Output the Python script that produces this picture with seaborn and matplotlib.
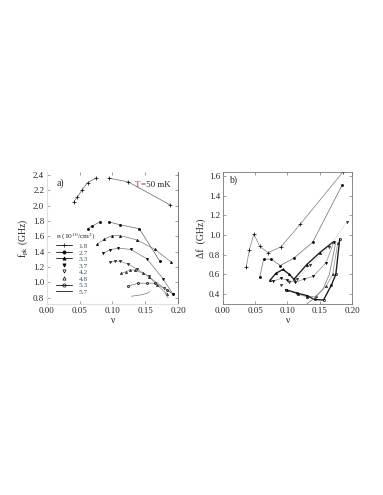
import numpy as np
import matplotlib
matplotlib.use("Agg")
import matplotlib.pyplot as plt
import seaborn as sns
from matplotlib.lines import Line2D

sns.set_style("ticks")
plt.rcParams["font.family"] = ["Liberation Serif", "DejaVu Serif"]
plt.rcParams["mathtext.fontset"] = "stix"

nan = np.nan

# densities n (10^10 / cm^2)
densities = ["1.8", "2.7", "3.3", "3.7", "4.2", "4.8", "5.3", "5.7"]

# panel a) peak frequency f_pk (GHz) vs filling factor nu  (nan = gap)
nu_a = [
    [0.041, 0.046, 0.054, 0.062, 0.075, nan, 0.094, 0.124, 0.188],
    [0.062, 0.068, 0.081, nan, 0.094, 0.112, 0.141, 0.172],
    [0.077, 0.087, 0.099, 0.112, 0.137, 0.165, 0.189],
    [0.086, 0.096, 0.109, 0.128, 0.153, 0.177, 0.192],
    [0.096, 0.104, 0.112, 0.124, 0.138, 0.155, 0.178, 0.192],
    [0.113, 0.121, 0.126, 0.134, 0.147, 0.156, 0.168, 0.183],
    [0.123, 0.139, 0.152, 0.165, 0.183, 0.193],
    [0.129, 0.137, 0.145, 0.153, 0.157, nan, 0.180, 0.185],
]
fpk = [
    [2.05, 2.11, 2.21, 2.30, 2.36, nan, 2.36, 2.31, 2.01],
    [1.70, 1.73, 1.79, nan, 1.79, 1.75, 1.70, 1.28],
    [1.50, 1.56, 1.61, 1.61, 1.555, 1.43, 1.27],
    [1.38, 1.425, 1.447, 1.43, 1.305, 1.05, 0.85],
    [1.26, 1.28, 1.275, 1.24, 1.17, 1.08, 0.93, 0.85],
    [1.12, 1.14, 1.165, 1.16, 1.12, 1.07, 0.97, 0.85],
    [0.95, 0.99, 0.99, 0.99, 0.905, 0.85],
    [0.82, 0.83, 0.84, 0.86, 0.88, nan, 0.865, 0.80],
]

# panel b) linewidth delta f (GHz) vs nu
nu_b = [
    [0.036, 0.041, 0.048, 0.057, 0.070, 0.090, 0.120, 0.186],
    [0.057, 0.063, 0.075, 0.089, 0.110, 0.139, 0.185],
    [0.073, 0.082, 0.093, 0.103, 0.110, 0.130, 0.150, 0.170],
    [0.078, 0.090, 0.100, 0.112, 0.125, 0.140, 0.160, 0.172],
    [0.090, 0.103, 0.115, 0.135, 0.165, 0.192],
    [0.100, 0.117, 0.130, 0.145, 0.160, 0.170, 0.178],
    [0.097, 0.115, 0.130, 0.142, 0.156, 0.168, 0.175, 0.181],
    [0.130, 0.140, 0.155, 0.165, 0.175],
]
df_b = [
    [0.67, 0.85, 1.01, 0.885, 0.82, 0.88, 1.11, 1.64],
    [0.57, 0.755, 0.755, 0.69, 0.765, 0.925, 1.51],
    [0.54, 0.61, 0.65, 0.60, 0.55, 0.70, 0.82, 0.925],
    [0.53, 0.56, 0.54, 0.52, 0.55, 0.58, 0.72, 0.93],
    [0.49, 0.52, 0.55, 0.70, 0.88, 1.13],
    [0.44, 0.40, 0.37, 0.38, 0.48, 0.60, 0.92],
    [0.445, 0.41, 0.385, 0.345, 0.34, 0.49, 0.60, 0.96],
    [0.30, 0.35, 0.45, 0.60, 0.93],
]

markers = ["+", "o", "^", "v", "v", "^", "o", ""]
mfill = ["k", "k", "k", "k", "none", "none", "none", "none"]
line_a = ["#666666", "#666666", "#777777", "#777777", "#888888", "#888888", "#777777", "#777777"]
line_b = ["#888888", "#777777", "#222222", "#999999", "#b0b0b0", "#999999", "#222222", "#888888"]
lw_b = [0.55, 0.55, 1.0, 0.55, 0.55, 0.55, 1.0, 0.6]
ls_b = ["-", "-", "-", "-", ":", "-", "-", "-"]


def draw(ax, nu, val, **kw):
    nu = np.array(nu)
    val = np.array(val)
    ok = ~np.isnan(nu)
    seg = np.cumsum(~ok)
    for s in np.unique(seg[ok]):
        m = ok & (seg == s)
        sns.lineplot(x=nu[m], y=val[m], ax=ax, sort=False, estimator=None, **kw)


fig = plt.figure(figsize=(3.83, 4.95), dpi=100)
ax1 = fig.add_axes([0.1227, 0.386, 0.342, 0.2667])
ax2 = fig.add_axes([0.582, 0.386, 0.337, 0.2667])

for i in range(len(densities)):
    ms = 2.6 if markers[i] == "+" else 1.5
    draw(ax1, nu_a[i], fpk[i], color=line_a[i], lw=0.5,
         marker=markers[i] if markers[i] else None, markersize=ms,
         markerfacecolor=mfill[i], markeredgecolor="k", markeredgewidth=0.5)
    draw(ax2, nu_b[i], df_b[i], color=line_b[i], lw=lw_b[i], linestyle=ls_b[i],
         marker=markers[i] if markers[i] else None, markersize=ms,
         markerfacecolor=mfill[i], markeredgecolor="k", markeredgewidth=0.5)

# panel a) axes
ax1.set_xlim(0, 0.2)
ax1.set_ylim(0.72, 2.44)
ax1.set_xticks([0.0, 0.05, 0.10, 0.15, 0.20])
ax1.set_xticklabels(["0.00", "0.05", "0.10", "0.15", "0.20"])
ax1.set_yticks(np.arange(0.8, 2.41, 0.2))
ax1.set_yticklabels([f"{v:.1f}" for v in np.arange(0.8, 2.41, 0.2)])
ax1.set_xlabel("ν", fontsize=7, labelpad=1)
ax1.set_ylabel("f$_{\\rm pk}$ (GHz)", fontsize=7, labelpad=2)
ax1.text(0.07, 0.95, "a)", transform=ax1.transAxes, fontsize=7, va="top")
ax1.text(0.67, 0.93, "T", transform=ax1.transAxes, fontsize=6.5, va="top", color="#c03030")
ax1.text(0.72, 0.93, "=50 mK", transform=ax1.transAxes, fontsize=6.5, va="top")
ax1.spines["top"].set_visible(False)
for sp in ["left", "bottom"]:
    ax1.spines[sp].set_color("#e0e0e0")
ax1.spines["right"].set_color("#666666")
ax1.spines["right"].set_linewidth(0.6)

handles = []
for i, d in enumerate(densities):
    show_line = i in (0, 1, 2, 6, 7)
    handles.append(Line2D([], [], color="#333333" if show_line else "none", lw=0.7,
                          marker=markers[i] if markers[i] else None,
                          markersize=3 if markers[i] == "+" else 2.3,
                          markerfacecolor=mfill[i], markeredgecolor="k", markeredgewidth=0.5))
leg = ax1.legend(handles, densities, title="n (10$^{10}$/cm$^2$)", loc="upper left",
                 bbox_to_anchor=(0.04, 0.575), frameon=False, fontsize=5.3,
                 title_fontsize=5.4, handlelength=2.2, labelspacing=0.0,
                 borderpad=0.0, handletextpad=0.9, handleheight=0.9)
leg._legend_box.align = "left"
for t in leg.get_texts():
    t.set_color("#3d5565")

# panel b) axes
ax2.set_xlim(0, 0.2)
ax2.set_ylim(0.30, 1.64)
ax2.set_xticks([0.0, 0.05, 0.10, 0.15, 0.20])
ax2.set_xticklabels(["0.00", "0.05", "0.10", "0.15", "0.20"])
ax2.set_yticks(np.arange(0.4, 1.61, 0.2))
ax2.set_yticklabels([f"{v:.1f}" for v in np.arange(0.4, 1.61, 0.2)])
ax2.set_xlabel("ν", fontsize=7, labelpad=1)
ax2.set_ylabel("Δf  (GHz)", fontsize=7, labelpad=2)
ax2.text(0.05, 0.97, "b)", transform=ax2.transAxes, fontsize=7, va="top")
for sp in ax2.spines.values():
    sp.set_color("#777777")
    sp.set_linewidth(0.6)

for ax in (ax1, ax2):
    ax.tick_params(direction="in", labelsize=6.5, length=2, width=0.5,
                   top=True, right=True, pad=2, color="#777777")

fig.savefig("out.png", dpi=100, facecolor="white")
